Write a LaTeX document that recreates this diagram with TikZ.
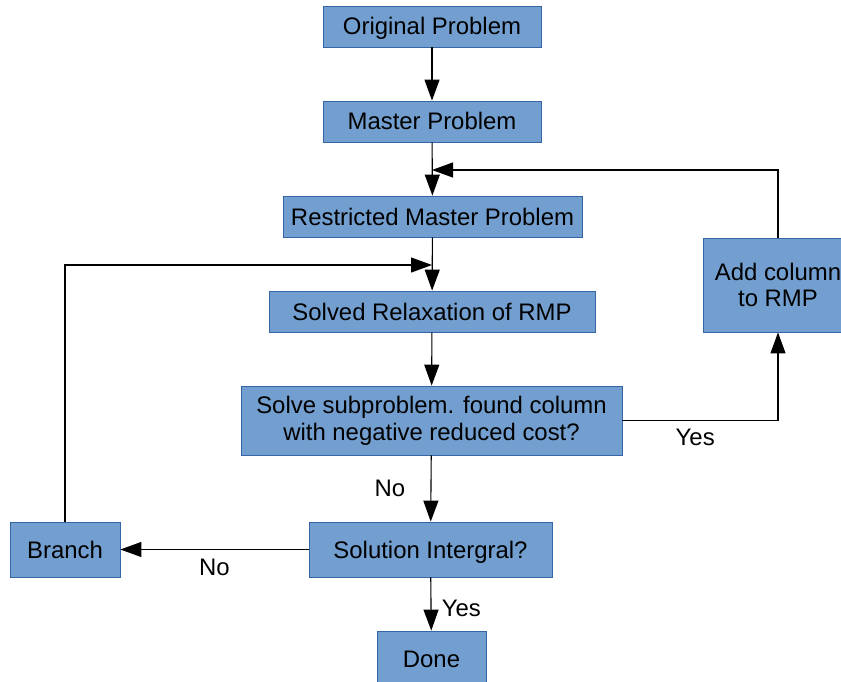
\documentclass[tikz,border=0pt]{standalone}
\usepackage{fontspec}
\setmainfont{Liberation Sans}
\usetikzlibrary{arrows.meta,positioning}

\definecolor{boxfill}{HTML}{729FCF}
\definecolor{boxline}{HTML}{3465A4}

\tikzset{
  box/.style={draw=boxline, fill=boxfill, line width=0.8bp, inner sep=0pt, align=center},
  oneline/.style={box, text height=17bp, text depth=0bp},
  arr/.style={-{Triangle[length=21bp,width=15bp]}, line width=1.1bp}
}

\begin{document}
\begin{tikzpicture}[x=1bp, y=-1bp, font=\fontsize{24}{27}\selectfont]
    \useasboundingbox (0,0) rectangle (841,682);

    % main column
    \node[oneline, minimum width=218bp, minimum height=41bp] (orig) at (432, 26.5) {Original Problem};
    \node[oneline, minimum width=218bp, minimum height=41bp] (master) at (432, 121.5) {Master Problem};
    \node[oneline, minimum width=299bp, minimum height=41bp] (rmp) at (432.5, 216.5) {Restricted Master Problem};
    \node[oneline, minimum width=326bp, minimum height=41bp] (relax) at (432, 311.5) {Solved Relaxation of RMP};
    \node[box, minimum width=381bp, minimum height=69bp] (sub) at (431.5, 420.5) {Solve subproblem. found column\\with negative reduced cost?};
    \node[oneline, minimum width=243bp, minimum height=55bp] (integ) at (430.5, 549.5) {Solution Intergral?};
    \node[oneline, minimum width=109bp, minimum height=55bp] (done) at (431.5, 658.5) {Done};

    % side boxes
    \node[box, minimum width=150bp, minimum height=94bp] (addcol) at (778, 285) {Add column\\to RMP};
    \node[oneline, minimum width=110bp, minimum height=55bp] (branch) at (65, 549.5) {Branch};

    \coordinate (loopin) at (432, 170);
    \coordinate (branchin) at (432, 265);

    \draw[arr] (orig) -- (master);
    \draw[arr] (master) -- (rmp);
    \draw[arr] (rmp) -- (relax);
    \draw[arr] (relax) -- (sub);
    \draw[arr] (addcol.north) |- (loopin);
    \draw[arr] (branch.north) |- (branchin);
    \draw[arr] (sub.east) -| node[below=5bp, pos=0.25, xshift=-5bp] {Yes} (addcol.south);
    \draw[arr] (sub) -- node[left=22bp] {No} (integ);
    \draw[arr] (integ) -- node[below=6bp] {No} (branch);
    \draw[arr] (integ) -- node[right=7bp, yshift=-4bp] {Yes} (done);
\end{tikzpicture}
\end{document}
